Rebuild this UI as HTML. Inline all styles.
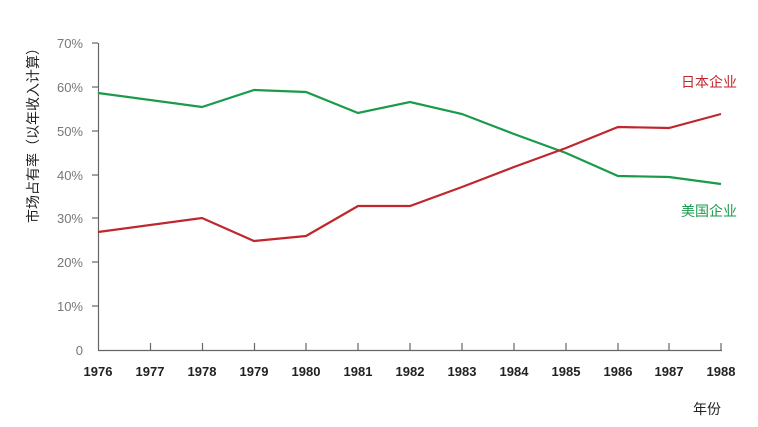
<!DOCTYPE html><html><head><style>body{margin:0;background:#fff}svg{display:block}</style></head><body>
<svg width="758" height="427" xmlns="http://www.w3.org/2000/svg" font-family="Liberation Sans, Noto Sans CJK SC, sans-serif">
<g stroke="#666" stroke-width="1.2">
<line x1="98.5" y1="43" x2="98.5" y2="350"/>
<line x1="98" y1="350.5" x2="722" y2="350.5"/>
<line x1="92" y1="43" x2="98" y2="43"/><line x1="92" y1="87" x2="98" y2="87"/><line x1="92" y1="131" x2="98" y2="131"/><line x1="92" y1="175" x2="98" y2="175"/><line x1="92" y1="218" x2="98" y2="218"/><line x1="92" y1="262" x2="98" y2="262"/><line x1="92" y1="306" x2="98" y2="306"/>
<line x1="150.5" y1="343" x2="150.5" y2="350"/><line x1="202.5" y1="343" x2="202.5" y2="350"/><line x1="254.5" y1="343" x2="254.5" y2="350"/><line x1="306" y1="343" x2="306" y2="350"/><line x1="358" y1="343" x2="358" y2="350"/><line x1="410" y1="343" x2="410" y2="350"/><line x1="462" y1="343" x2="462" y2="350"/><line x1="514" y1="343" x2="514" y2="350"/><line x1="566" y1="343" x2="566" y2="350"/><line x1="618" y1="343" x2="618" y2="350"/><line x1="669" y1="343" x2="669" y2="350"/><line x1="721" y1="343" x2="721" y2="350"/>
</g>
<g fill="#777" font-size="13" text-anchor="end">
<text x="83" y="48">70%</text><text x="83" y="92">60%</text><text x="83" y="136">50%</text><text x="83" y="180">40%</text><text x="83" y="223">30%</text><text x="83" y="267">20%</text><text x="83" y="311">10%</text><text x="83" y="355">0</text>
</g>
<g fill="#222" font-size="13" font-weight="bold" text-anchor="middle">
<text x="98" y="376">1976</text><text x="150" y="376">1977</text><text x="202" y="376">1978</text><text x="254" y="376">1979</text><text x="306" y="376">1980</text><text x="358" y="376">1981</text><text x="410" y="376">1982</text><text x="462" y="376">1983</text><text x="514" y="376">1984</text><text x="566" y="376">1985</text><text x="618" y="376">1986</text><text x="669" y="376">1987</text><text x="721" y="376">1988</text>
</g>
<text x="707" y="414" font-size="14" fill="#222" text-anchor="middle">年份</text>
<text transform="translate(38,132) rotate(-90)" font-size="14" fill="#222" text-anchor="middle">市场占有率（以年收入计算）</text>
<polyline fill="none" stroke="#1a9a4a" stroke-width="2.2" points="98,93 202,107 254,90 306,92 358,113 410,102 462,114 514,134 566,153 618,176 669,177 721,184"/>
<polyline fill="none" stroke="#c0272d" stroke-width="2.2" points="98,232 202,218 254,241 306,236 358,206 410,206 462,187 514,167 566,148 618,127 669,128 721,114"/>
<text x="709" y="87" font-size="14" fill="#c0272d" text-anchor="middle">日本企业</text>
<text x="709" y="216" font-size="14" fill="#1a9a4a" text-anchor="middle">美国企业</text>
</svg>
</body></html>
